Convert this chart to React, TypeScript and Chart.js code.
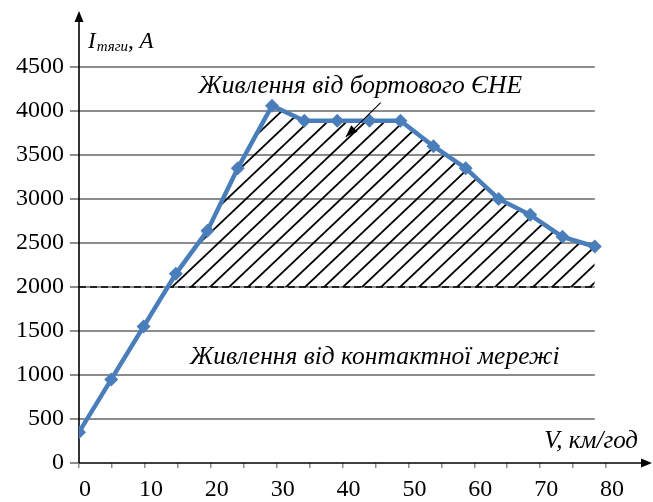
import React, { useEffect, useRef } from "react";
import { Chart, registerables } from "chart.js";

Chart.register(...registerables);

// Speed V, km/h
const speedKmh = [0, 4.9, 9.8, 14.7, 19.5, 24.1, 29.3, 34.2, 39.2, 44.1, 48.8, 53.8, 58.7, 63.7, 68.5, 73.4, 78.3];
// Traction current I, A
const currentA = [350, 950, 1550, 2150, 2640, 3350, 4060, 3890, 3890, 3890, 3890, 3600, 3350, 3000, 2820, 2570, 2460];
// Threshold (contact network supply limit), A
const thresholdA = 2000;
const yTicks = [0, 500, 1000, 1500, 2000, 2500, 3000, 3500, 4000, 4500];
const xTickLabels = [0, 10, 20, 30, 40, 50, 60, 70, 80];

const topLabel = "Живлення від бортового ЄНЕ";
const bottomLabel = "Живлення від контактної мережі";
const yTitleMain = "I";
const yTitleSub = "тяги";
const yTitleUnit = ", A";
const xTitle = "V, км/год";

const SERIF = "'Liberation Serif', 'Times New Roman', serif";
const BLUE = "#4a7ebb";
const GRID = "#8c8c8c";

function makeHatch(): CanvasPattern | string {
  const w = 19, h = 18;
  const c = document.createElement("canvas");
  c.width = w; c.height = h;
  const g = c.getContext("2d");
  if (!g) return "rgba(0,0,0,0.2)";
  g.strokeStyle = "#000";
  g.lineWidth = 1.8;
  for (let k = -1; k <= 1; k++) {
    g.beginPath();
    g.moveTo(k * w - w * 0.5, h * 1.5);
    g.lineTo(k * w + w * 1.5, -h * 0.5);
    g.stroke();
  }
  const p = g.createPattern(c, "repeat");
  return p || "rgba(0,0,0,0.2)";
}

export default function App() {
  const ref = useRef<HTMLCanvasElement>(null);

  useEffect(() => {
    document.body.style.margin = "0";
    const canvas = ref.current;
    if (!canvas) return;
    const lastX = speedKmh[speedKmh.length - 1];

    const decor = {
      id: "decor",
      beforeDatasetsDraw(chart: any) {
        const { ctx, chartArea } = chart;
        const xs = chart.scales.x, ys = chart.scales.y;
        const xEnd = xs.getPixelForValue(lastX);
        ctx.save();
        // horizontal gridlines up to the last measured point
        ctx.strokeStyle = GRID;
        ctx.lineWidth = 2;
        yTicks.forEach((v) => {
          if (v === 0) return;
          const y = Math.round(ys.getPixelForValue(v));
          ctx.beginPath();
          ctx.moveTo(chartArea.left, y);
          ctx.lineTo(xEnd, y);
          ctx.stroke();
        });
        // axes with arrows
        const x0 = chartArea.left;
        const y0 = ys.getPixelForValue(0);
        ctx.strokeStyle = "#000";
        ctx.fillStyle = "#000";
        ctx.lineWidth = 1.6;
        ctx.beginPath();
        ctx.moveTo(x0, y0);
        ctx.lineTo(x0, 18);
        ctx.stroke();
        ctx.beginPath();
        ctx.moveTo(x0, 11);
        ctx.lineTo(x0 - 4.5, 22);
        ctx.lineTo(x0 + 4.5, 22);
        ctx.closePath();
        ctx.fill();
        ctx.beginPath();
        ctx.moveTo(x0, y0);
        ctx.lineTo(645, y0);
        ctx.stroke();
        ctx.beginPath();
        ctx.moveTo(652, y0);
        ctx.lineTo(641, y0 - 4.5);
        ctx.lineTo(641, y0 + 4.5);
        ctx.closePath();
        ctx.fill();
        ctx.restore();
      },
      afterDraw(chart: any) {
        const { ctx } = chart;
        const xs = chart.scales.x, ys = chart.scales.y;
        ctx.save();
        ctx.fillStyle = "#000";
        ctx.textBaseline = "alphabetic";
        // region labels
        ctx.font = `italic 25.5px ${SERIF}`;
        ctx.textAlign = "center";
        ctx.fillText(topLabel, xs.getPixelForValue(42.7), ys.getPixelForValue(4200));
        ctx.fillText(bottomLabel, xs.getPixelForValue(44.9), ys.getPixelForValue(1130));
        // pointer arrow
        const ax1 = xs.getPixelForValue(45.8), ay1 = ys.getPixelForValue(4094);
        const ax2 = xs.getPixelForValue(40.5), ay2 = ys.getPixelForValue(3707);
        ctx.strokeStyle = "#000";
        ctx.lineWidth = 1.1;
        ctx.beginPath();
        ctx.moveTo(ax1, ay1);
        ctx.lineTo(ax2, ay2);
        ctx.stroke();
        const ang = Math.atan2(ay2 - ay1, ax2 - ax1);
        const L = 12, W = 4.5;
        ctx.beginPath();
        ctx.moveTo(ax2, ay2);
        ctx.lineTo(ax2 - L * Math.cos(ang) + W * Math.sin(ang), ay2 - L * Math.sin(ang) - W * Math.cos(ang));
        ctx.lineTo(ax2 - L * Math.cos(ang) - W * Math.sin(ang), ay2 - L * Math.sin(ang) + W * Math.cos(ang));
        ctx.closePath();
        ctx.fill();
        // y title
        ctx.textAlign = "left";
        let tx = chart.chartArea.left + 9;
        const ty = ys.getPixelForValue(4500) - 19;
        ctx.font = `italic 23px ${SERIF}`;
        ctx.fillText(yTitleMain, tx, ty);
        tx += ctx.measureText(yTitleMain).width + 1;
        ctx.font = `italic 15px ${SERIF}`;
        ctx.fillText(yTitleSub, tx, ty + 3);
        tx += ctx.measureText(yTitleSub).width;
        ctx.font = `italic 23px ${SERIF}`;
        ctx.fillText(yTitleUnit, tx, ty);
        // x title
        ctx.font = `italic 25px ${SERIF}`;
        ctx.textAlign = "right";
        ctx.fillText(xTitle, 638, ys.getPixelForValue(0) - 15);
        ctx.restore();
      },
    };

    const chart = new Chart(canvas, {
      type: "scatter",
      data: {
        datasets: [
          {
            data: speedKmh.map((x, i) => ({ x, y: currentA[i] })),
            showLine: true,
            borderColor: BLUE,
            borderWidth: 4.5,
            backgroundColor: BLUE,
            pointStyle: "rectRot",
            pointRadius: 7,
            pointBorderWidth: 0,
            pointBackgroundColor: BLUE,
            tension: 0,
            fill: { target: { value: thresholdA }, above: makeHatch(), below: "rgba(0,0,0,0)" },
          } as any,
          {
            data: [
              { x: 0, y: thresholdA },
              { x: lastX, y: thresholdA },
            ],
            showLine: true,
            borderColor: "#000",
            borderWidth: 1.6,
            borderDash: [7, 4],
            pointRadius: 0,
            fill: false,
          },
        ],
      },
      options: {
        responsive: false,
        animation: false,
        layout: { padding: { top: 67, right: 47, left: 0, bottom: 0 } },
        plugins: { legend: { display: false }, tooltip: { enabled: false } },
        scales: {
          x: {
            type: "linear",
            min: 0,
            max: 80,
            afterFit: (s: any) => { s.height = 39; },
            border: { display: false },
            grid: { drawOnChartArea: false, drawTicks: true, tickLength: 5, color: GRID, lineWidth: 1.5 },
            ticks: {
              stepSize: 5,
              autoSkip: false,
              maxRotation: 0,
              padding: 7,
              labelOffset: 6,
              color: "#000",
              font: { family: SERIF, size: 24 },
              callback: (v: any) => (xTickLabels.includes(Number(v)) ? String(v) : ""),
            },
          },
          y: {
            min: 0,
            max: 4500,
            afterFit: (s: any) => { s.width = 79; },
            border: { display: false },
            grid: { drawOnChartArea: false, drawTicks: true, tickLength: 9, color: GRID, lineWidth: 2 },
            ticks: {
              stepSize: 500,
              padding: 6,
              color: "#000",
              font: { family: SERIF, size: 24 },
              callback: (v: any) => (yTicks.includes(Number(v)) ? String(v) : ""),
            },
          },
        },
      },
      plugins: [decor],
    });
    return () => chart.destroy();
  }, []);

  return (
    <div style={{ width: 653, height: 502, background: "#fff" }}>
      <canvas ref={ref} width={653} height={502} />
    </div>
  );
}
